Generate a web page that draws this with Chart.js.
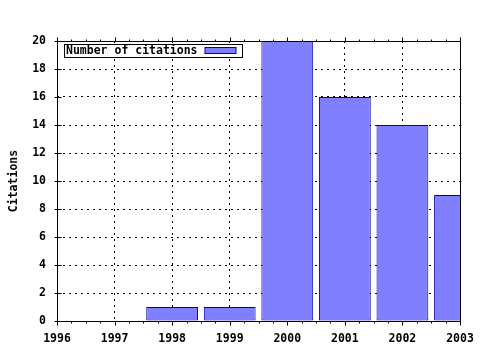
<!DOCTYPE html>
<html>
<head>
<meta charset="utf-8">
<script src="https://cdn.jsdelivr.net/npm/chart.js@4/dist/chart.umd.min.js"></script>
<style>
html,body{margin:0;padding:0;background:#fff;}
#c{display:block;}
</style>
</head>
<body>
<canvas id="c" width="480" height="350"></canvas>
<script>
const years = [1998, 1999, 2000, 2001, 2002, 2003];
const citations = [1, 1, 20, 16, 14, 9];
const seriesLabel = "Number of citations";
const yAxisTitle = "Citations";
const xMin = 1996, xMax = 2003;
const yMin = 0, yMax = 20, yStep = 2;

const FONT = {family: "'DejaVu Sans Mono', monospace", size: 11.5, weight: 'bold'};

const framePlugin = {
  id: 'frame',
  afterDatasetsDraw(chart) {
    const ctx = chart.ctx;
    const a = chart.chartArea;
    const xs = chart.scales.x, ys = chart.scales.y;
    ctx.save();
    ctx.strokeStyle = '#000';
    ctx.lineWidth = 1;
    const L = Math.round(a.left) + 0.5, R = Math.round(a.right) + 0.5;
    const T = Math.round(a.top) + 0.5, B = Math.round(a.bottom) + 0.5;
    ctx.strokeRect(L, T, R - L, B - T);
    ctx.beginPath();
    for (let v = xMin; v <= xMax + 1e-9; v += 0.25) {
      const major = Math.abs(v - Math.round(v)) < 1e-9;
      const px = Math.round(xs.getPixelForValue(v)) + 0.5;
      const len = major ? 4 : 2;
      ctx.moveTo(px, B); ctx.lineTo(px, B + len);
      ctx.moveTo(px, T); ctx.lineTo(px, T - len);
    }
    for (let v = yMin; v <= yMax; v += yStep) {
      const py = Math.round(ys.getPixelForValue(v)) + 0.5;
      ctx.moveTo(L - 3, py); ctx.lineTo(L + 4, py);
    }
    ctx.stroke();
    const ds = chart.data.datasets[0];
    ctx.font = `${FONT.weight} ${FONT.size}px ${FONT.family}`;
    const bx = L + 7, by = T + 3, bw = 178, bh = 13;
    ctx.fillStyle = '#fff';
    ctx.fillRect(bx, by, bw, bh);
    ctx.strokeRect(bx, by, bw, bh);
    ctx.fillStyle = '#000';
    ctx.textBaseline = 'middle';
    ctx.textAlign = 'left';
    ctx.fillText(ds.label, bx + 1.5, by + bh / 2 + 0.5);
    ctx.fillStyle = ds.backgroundColor;
    ctx.fillRect(bx + 140.5, by + 3, 31, 6);
    ctx.strokeStyle = ds.borderColor;
    ctx.strokeRect(bx + 140.5, by + 3, 31, 6);
    ctx.restore();
  }
};

new Chart(document.getElementById('c'), {
  type: 'bar',
  data: {
    datasets: [{
      label: seriesLabel,
      data: years.map((y, i) => ({x: y, y: citations[i]})),
      backgroundColor: 'rgb(128,128,255)',
      borderColor: 'rgb(0,0,170)',
      borderWidth: 1,
      borderSkipped: false,
      barPercentage: 0.9,
      categoryPercentage: 1,
      clip: 0
    }]
  },
  options: {
    responsive: false,
    animation: false,
    devicePixelRatio: 1,
    layout: {padding: {left: 0, top: 41, right: 20, bottom: 0}},
    plugins: {legend: {display: false}, tooltip: {enabled: false}},
    scales: {
      x: {
        type: 'linear',
        min: xMin, max: xMax,
        offset: false,
        grid: {color: '#000', lineWidth: 1, drawTicks: false, offset: false},
        border: {display: false, dash: [2, 4]},
        ticks: {stepSize: 1, color: '#000', font: FONT, padding: 11, maxRotation: 0,
                callback: v => String(v)},
        afterFit: s => { s.height = 29; s.paddingLeft = 0; s.paddingRight = 0; }
      },
      y: {
        min: yMin, max: yMax,
        grid: {color: '#000', lineWidth: 1, drawTicks: false},
        border: {display: false, dash: [2, 4]},
        ticks: {stepSize: yStep, color: '#000', font: FONT, padding: 11},
        title: {display: true, text: yAxisTitle, color: '#000', font: FONT, padding: {top: 7, bottom: 0}},
        afterFit: s => { s.width = 57; s.paddingTop = 0; s.paddingBottom = 0; }
      }
    }
  },
  plugins: [framePlugin]
});
</script>
</body>
</html>
